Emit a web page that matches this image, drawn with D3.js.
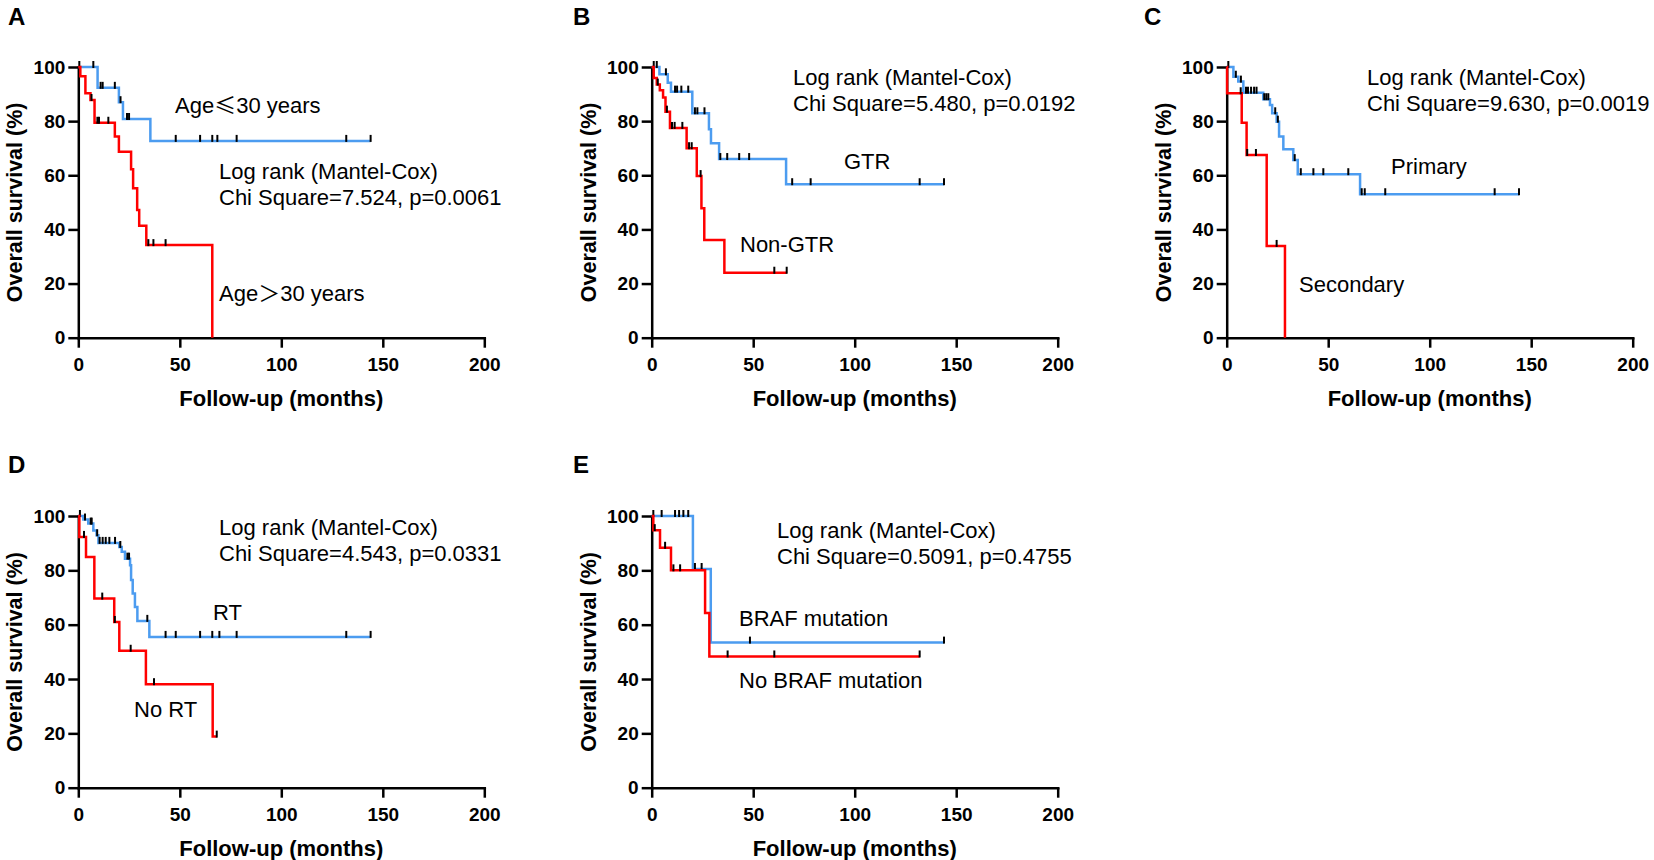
<!DOCTYPE html>
<html>
<head>
<meta charset="utf-8">
<script src="https://cdn.jsdelivr.net/npm/d3@7"></script>
<style>
body { margin: 0; background: #fff; }
svg { display: block; font-family: "Liberation Sans", Arial, sans-serif; }
</style>
</head>
<body>
<svg id="figure" width="1654" height="860"></svg>
<script>
const xTicks = [0, 50, 100, 150, 200];
const yTicks = [0, 20, 40, 60, 80, 100];

/* Each curve is a list of [month, survival %] steps, the month the line stops, and censored months. */
const ageLowSteps = [[0, 100], [9.5, 92.3], [20, 87], [22, 80.8], [35.5, 72.7]];
const ageLowEnd = 144;
const ageLowCensor = [0.5, 7.4, 11, 12, 18, 20.8, 24, 25, 48, 60, 66, 68.5, 78, 132, 144];
const ageHighSteps = [[0, 100], [1, 96.6], [3.5, 90.3], [6, 87.8], [8, 79.4], [18, 74.3], [20, 68.7],
    [26, 62.2], [27, 55.2], [29, 47.2], [30, 41.4], [33.5, 34.2], [66, 0]];
const ageHighEnd = 66;
const ageHighCensor = [6.5, 9.4, 10.2, 14.8, 34.5, 37, 43];
const statsA = ["Log rank (Mantel-Cox)", "Chi Square=7.524, p=0.0061"];
const groupsA = ["Age≤30 years", "Age＞30 years"];

const gtrSteps = [[0, 100], [3.8, 97.3], [7.9, 94.2], [9.5, 90.9], [20, 82.9], [28.2, 77], [29.2, 71.8],
    [33.2, 66], [66.2, 56.7]];
const gtrEnd = 144;
const gtrCensor = [1, 2.5, 7, 11.5, 12.5, 14.6, 18, 21.3, 22.5, 26, 33.8, 37.2, 43.1, 48, 69.2, 78.3, 132, 144];
const nonGtrSteps = [[0, 100], [1, 95.9], [2.5, 93.5], [4, 91.4], [5.6, 88.7], [6.8, 83.5], [9, 77.5],
    [17.2, 70], [22.2, 59.7], [24.5, 47.8], [25.9, 36.1], [35.8, 24]];
const nonGtrEnd = 66.5;
const nonGtrCensor = [3, 7.5, 10, 11.3, 15.1, 18.4, 19.7, 24.1, 60.4, 66.5];
const statsB = ["Log rank (Mantel-Cox)", "Chi Square=5.480, p=0.0192"];
const groupsB = ["GTR", "Non-GTR"];

const primarySteps = [[0, 100], [3.3, 96.4], [5.7, 94.6], [8.2, 90.5], [18, 88.1], [21.3, 86], [22.4, 82.9],
    [24.6, 79.8], [25.8, 74.3], [27.9, 69.6], [32.8, 65.6], [35, 60.4], [65.7, 53]];
const primaryEnd = 144;
const primaryCensor = [0.8, 4.5, 7, 9.5, 10.5, 12, 13.5, 14.7, 18.5, 19.5, 20.5, 23.9, 25.2, 33.5,
    36.5, 42.7, 47.6, 59.9, 66.5, 68, 78.1, 132, 144];
const secondarySteps = [[0, 100], [0.2, 90.3], [7.4, 79.4], [9.8, 67.5], [19.7, 33.9], [28.7, 0]];
const secondaryEnd = 28.7;
const secondaryCensor = [6.9, 10.1, 14.4, 24.6];
const statsC = ["Log rank (Mantel-Cox)", "Chi Square=9.630, p=0.0019"];
const groupsC = ["Primary", "Secondary"];

const rtSteps = [[0, 100], [2.5, 98.7], [4.9, 97.2], [7.4, 94.7], [9, 92.9], [9.9, 90.1], [20.2, 88.6],
    [21.4, 86.8], [23, 84.3], [25.5, 81.9], [26, 76.4], [26.8, 71.5], [27.9, 66.5], [29.1, 61.4], [35, 55.5]];
const rtEnd = 144;
const rtCensor = [0.8, 3.3, 6.1, 6.6, 9.3, 10.5, 12, 13.5, 15.3, 18.1, 20.7, 24.2, 25, 34, 43, 48,
    60, 66, 69.5, 78, 132, 144];
const noRtSteps = [[0, 100], [0.5, 92.3], [3.8, 84.9], [7.9, 69.6], [17.7, 61], [20.2, 50.4], [33.3, 38.1],
    [66.2, 18.8]];
const noRtEnd = 68.2;
const noRtCensor = [2.8, 11.8, 18, 25.8, 37.3, 68.2];
const statsD = ["Log rank (Mantel-Cox)", "Chi Square=4.543, p=0.0331"];
const groupsD = ["RT", "No RT"];

const brafSteps = [[0, 100], [20.3, 80.5], [29.1, 53.4]];
const brafEnd = 144;
const brafCensor = [0.8, 4.9, 11.5, 13.5, 15.6, 18, 21.3, 24.6, 48.4, 144];
const noBrafSteps = [[0, 100], [0.8, 94.8], [4.1, 88.3], [9.5, 80], [26.3, 64.3], [28.4, 48.3]];
const noBrafEnd = 132;
const noBrafCensor = [1.5, 6.6, 10.7, 14, 37.4, 60.4, 132];
const statsE = ["Log rank (Mantel-Cox)", "Chi Square=0.5091, p=0.4755"];
const groupsE = ["BRAF mutation", "No BRAF mutation"];

const BLUE = "#4c9cf0";
const RED = "#ff0000";

const panels = [
    { letter: "A", letterX: 8, letterY: 25, left: 78.3, top: 67, bottom: 337.7,
      series: [
        { steps: ageLowSteps, end: ageLowEnd, censor: ageLowCensor, color: BLUE },
        { steps: ageHighSteps, end: ageHighEnd, censor: ageHighCensor, color: RED }],
      stats: statsA, statsX: 219, statsY: 179,
      groups: groupsA, groupPos: [[175, 113], [219, 301]] },
    { letter: "B", letterX: 573, letterY: 25, left: 651.7, top: 67, bottom: 337.7,
      series: [
        { steps: gtrSteps, end: gtrEnd, censor: gtrCensor, color: BLUE },
        { steps: nonGtrSteps, end: nonGtrEnd, censor: nonGtrCensor, color: RED }],
      stats: statsB, statsX: 793, statsY: 85,
      groups: groupsB, groupPos: [[844, 169], [740, 252]] },
    { letter: "C", letterX: 1144, letterY: 25, left: 1226.7, top: 67, bottom: 337.7,
      series: [
        { steps: primarySteps, end: primaryEnd, censor: primaryCensor, color: BLUE },
        { steps: secondarySteps, end: secondaryEnd, censor: secondaryCensor, color: RED }],
      stats: statsC, statsX: 1367, statsY: 85,
      groups: groupsC, groupPos: [[1391, 174], [1299, 292]] },
    { letter: "D", letterX: 8, letterY: 473, left: 78.3, top: 516, bottom: 787.7,
      series: [
        { steps: rtSteps, end: rtEnd, censor: rtCensor, color: BLUE },
        { steps: noRtSteps, end: noRtEnd, censor: noRtCensor, color: RED }],
      stats: statsD, statsX: 219, statsY: 535,
      groups: groupsD, groupPos: [[213, 620], [134, 717]] },
    { letter: "E", letterX: 573, letterY: 473, left: 651.7, top: 516, bottom: 787.7,
      series: [
        { steps: brafSteps, end: brafEnd, censor: brafCensor, color: BLUE },
        { steps: noBrafSteps, end: noBrafEnd, censor: noBrafCensor, color: RED }],
      stats: statsE, statsX: 777, statsY: 538,
      groups: groupsE, groupPos: [[739, 626], [739, 688]] }
];

const svg = d3.select("#figure");

// survival value the curve sits at for a given month
function survivalAt(steps, t) {
    let v = steps[0][1];
    steps.forEach(s => { if (s[0] <= t) v = s[1]; });
    return v;
}

// the inequality signs are full width glyphs in the original, so give them a CJK font
function addLabel(x, y, str) {
    const t = svg.append("text")
        .attr("x", x)
        .attr("y", y)
        .style("font-size", "22px")
        .style("fill", "#000");
    str.split(/([≤＞])/).filter(s => s.length).forEach(part => {
        const span = t.append("tspan").text(part);
        if (/[≤＞]/.test(part)) span.style("font-family", "'Noto Sans CJK SC'");
    });
}

function drawPanel(p) {
    const xScale = d3.scaleLinear().domain([0, 200]).range([p.left, p.left + 406]);
    const yScale = d3.scaleLinear().domain([0, 100]).range([p.bottom, p.top]);

    const xAxis = svg.append("g")
        .attr("transform", `translate(0,${p.bottom})`)
        .call(d3.axisBottom(xScale).tickValues(xTicks).tickSize(10).tickSizeOuter(0).tickPadding(10));
    const yAxis = svg.append("g")
        .attr("transform", `translate(${p.left},0)`)
        .call(d3.axisLeft(yScale).tickValues(yTicks).tickSize(10).tickSizeOuter(0).tickPadding(3));

    [xAxis, yAxis].forEach(g => {
        g.select(".domain").attr("stroke", "#000").attr("stroke-width", 2.5).attr("stroke-linecap", "square");
        g.selectAll(".tick line").attr("stroke", "#000").attr("stroke-width", 2.5);
        g.selectAll(".tick text")
            .attr("fill", "#000")
            .style("font-family", "'Liberation Sans', Arial, sans-serif")
            .style("font-size", "19px")
            .style("font-weight", "bold");
    });

    const line = d3.line()
        .x(d => xScale(d[0]))
        .y(d => yScale(d[1]))
        .curve(d3.curveStepAfter);

    p.series.forEach(s => {
        const pts = s.steps.concat([[s.end, s.steps[s.steps.length - 1][1]]]);
        svg.append("path")
            .attr("d", line(pts))
            .attr("fill", "none")
            .attr("stroke", s.color)
            .attr("stroke-width", 2.5);

        svg.selectAll(null)
            .data(s.censor)
            .enter().append("line")
            .attr("x1", d => xScale(d))
            .attr("x2", d => xScale(d))
            .attr("y1", d => yScale(survivalAt(s.steps, d)) - 6)
            .attr("y2", d => yScale(survivalAt(s.steps, d)) + 1)
            .attr("stroke", "#000")
            .attr("stroke-width", 2);
    });

    svg.append("text")
        .attr("x", p.left + 203)
        .attr("y", p.bottom + 68)
        .attr("text-anchor", "middle")
        .style("font-size", "22px")
        .style("font-weight", "bold")
        .text("Follow-up (months)");

    svg.append("text")
        .attr("transform", `translate(${p.left - 56},${(p.top + p.bottom) / 2}) rotate(-90)`)
        .attr("text-anchor", "middle")
        .style("font-size", "21.5px")
        .style("font-weight", "bold")
        .text("Overall survival (%)");

    svg.append("text")
        .attr("x", p.letterX)
        .attr("y", p.letterY)
        .style("font-size", "24px")
        .style("font-weight", "bold")
        .text(p.letter);

    p.stats.forEach((str, i) => addLabel(p.statsX, p.statsY + i * 25.5, str));
    p.groups.forEach((str, i) => addLabel(p.groupPos[i][0], p.groupPos[i][1], str));
}

panels.forEach(drawPanel);
</script>
</body>
</html>
